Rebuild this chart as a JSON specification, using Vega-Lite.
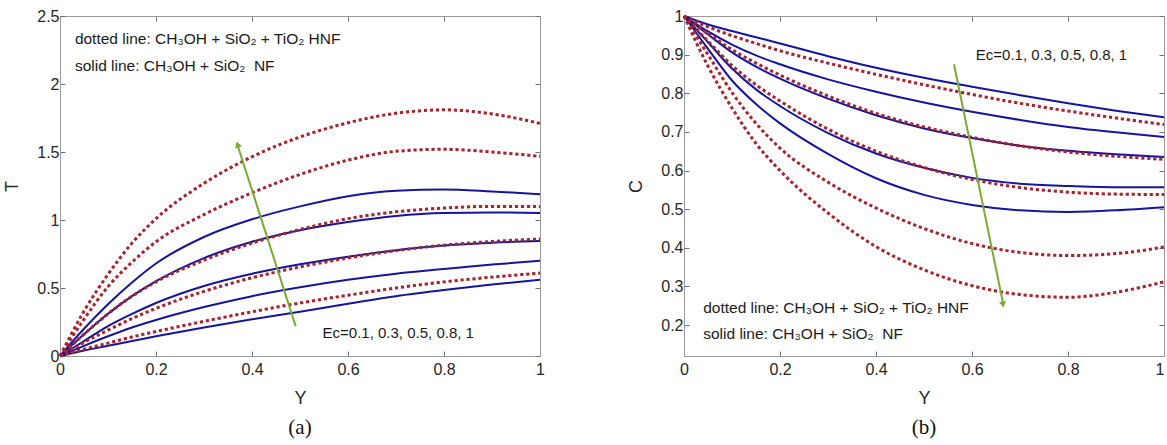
{
  "$schema": "https://vega.github.io/schema/vega-lite/v6.json",
  "background": "white",
  "padding": {"left": 3, "top": 8, "right": 0, "bottom": 0},
  "spacing": 81,
  "config": {
    "view": {"stroke": null},
    "font": "Liberation Sans",
    "axis": {
      "labelFont": "Liberation Sans", "labelFontSize": 16, "labelColor": "#262626",
      "titleFont": "Liberation Sans", "titleFontSize": 18, "titleFontWeight": "normal", "titleColor": "#262626",
      "domainColor": "#9a9a9a", "domainWidth": 1, "tickColor": "#707070", "tickSize": -5, "grid": false,
      "labelFlush": false, "labelOverlap": false
    }
  },
  "datasets": {
    "one": [{}],
    "tA": [
      {"Y":0,"T":0,"Ec":0.1,"fluid":"NF"},{"Y":0.05,"T":0.04,"Ec":0.1,"fluid":"NF"},{"Y":0.1,"T":0.075,"Ec":0.1,"fluid":"NF"},{"Y":0.15,"T":0.11,"Ec":0.1,"fluid":"NF"},{"Y":0.2,"T":0.145,"Ec":0.1,"fluid":"NF"},{"Y":0.3,"T":0.21,"Ec":0.1,"fluid":"NF"},{"Y":0.4,"T":0.27,"Ec":0.1,"fluid":"NF"},{"Y":0.5,"T":0.325,"Ec":0.1,"fluid":"NF"},{"Y":0.6,"T":0.385,"Ec":0.1,"fluid":"NF"},{"Y":0.7,"T":0.44,"Ec":0.1,"fluid":"NF"},{"Y":0.8,"T":0.485,"Ec":0.1,"fluid":"NF"},{"Y":0.9,"T":0.525,"Ec":0.1,"fluid":"NF"},{"Y":1,"T":0.56,"Ec":0.1,"fluid":"NF"},
      {"Y":0,"T":0,"Ec":0.3,"fluid":"NF"},{"Y":0.05,"T":0.075,"Ec":0.3,"fluid":"NF"},{"Y":0.1,"T":0.145,"Ec":0.3,"fluid":"NF"},{"Y":0.15,"T":0.21,"Ec":0.3,"fluid":"NF"},{"Y":0.2,"T":0.265,"Ec":0.3,"fluid":"NF"},{"Y":0.3,"T":0.36,"Ec":0.3,"fluid":"NF"},{"Y":0.4,"T":0.44,"Ec":0.3,"fluid":"NF"},{"Y":0.5,"T":0.505,"Ec":0.3,"fluid":"NF"},{"Y":0.6,"T":0.56,"Ec":0.3,"fluid":"NF"},{"Y":0.7,"T":0.605,"Ec":0.3,"fluid":"NF"},{"Y":0.8,"T":0.64,"Ec":0.3,"fluid":"NF"},{"Y":0.9,"T":0.672,"Ec":0.3,"fluid":"NF"},{"Y":1,"T":0.7,"Ec":0.3,"fluid":"NF"},
      {"Y":0,"T":0,"Ec":0.5,"fluid":"NF"},{"Y":0.05,"T":0.11,"Ec":0.5,"fluid":"NF"},{"Y":0.1,"T":0.22,"Ec":0.5,"fluid":"NF"},{"Y":0.15,"T":0.31,"Ec":0.5,"fluid":"NF"},{"Y":0.2,"T":0.39,"Ec":0.5,"fluid":"NF"},{"Y":0.3,"T":0.515,"Ec":0.5,"fluid":"NF"},{"Y":0.4,"T":0.605,"Ec":0.5,"fluid":"NF"},{"Y":0.5,"T":0.675,"Ec":0.5,"fluid":"NF"},{"Y":0.6,"T":0.73,"Ec":0.5,"fluid":"NF"},{"Y":0.7,"T":0.777,"Ec":0.5,"fluid":"NF"},{"Y":0.8,"T":0.812,"Ec":0.5,"fluid":"NF"},{"Y":0.9,"T":0.833,"Ec":0.5,"fluid":"NF"},{"Y":1,"T":0.845,"Ec":0.5,"fluid":"NF"},
      {"Y":0,"T":0,"Ec":0.8,"fluid":"NF"},{"Y":0.05,"T":0.16,"Ec":0.8,"fluid":"NF"},{"Y":0.1,"T":0.31,"Ec":0.8,"fluid":"NF"},{"Y":0.15,"T":0.44,"Ec":0.8,"fluid":"NF"},{"Y":0.2,"T":0.55,"Ec":0.8,"fluid":"NF"},{"Y":0.3,"T":0.72,"Ec":0.8,"fluid":"NF"},{"Y":0.4,"T":0.84,"Ec":0.8,"fluid":"NF"},{"Y":0.5,"T":0.925,"Ec":0.8,"fluid":"NF"},{"Y":0.6,"T":0.985,"Ec":0.8,"fluid":"NF"},{"Y":0.7,"T":1.03,"Ec":0.8,"fluid":"NF"},{"Y":0.8,"T":1.052,"Ec":0.8,"fluid":"NF"},{"Y":0.9,"T":1.056,"Ec":0.8,"fluid":"NF"},{"Y":1,"T":1.052,"Ec":0.8,"fluid":"NF"},
      {"Y":0,"T":0,"Ec":1,"fluid":"NF"},{"Y":0.05,"T":0.2,"Ec":1,"fluid":"NF"},{"Y":0.1,"T":0.38,"Ec":1,"fluid":"NF"},{"Y":0.15,"T":0.54,"Ec":1,"fluid":"NF"},{"Y":0.2,"T":0.68,"Ec":1,"fluid":"NF"},{"Y":0.3,"T":0.875,"Ec":1,"fluid":"NF"},{"Y":0.4,"T":1.005,"Ec":1,"fluid":"NF"},{"Y":0.5,"T":1.1,"Ec":1,"fluid":"NF"},{"Y":0.6,"T":1.175,"Ec":1,"fluid":"NF"},{"Y":0.7,"T":1.215,"Ec":1,"fluid":"NF"},{"Y":0.8,"T":1.225,"Ec":1,"fluid":"NF"},{"Y":0.9,"T":1.21,"Ec":1,"fluid":"NF"},{"Y":1,"T":1.19,"Ec":1,"fluid":"NF"},
      {"Y":0,"T":0,"Ec":0.1,"fluid":"HNF"},{"Y":0.05,"T":0.05,"Ec":0.1,"fluid":"HNF"},{"Y":0.1,"T":0.095,"Ec":0.1,"fluid":"HNF"},{"Y":0.15,"T":0.14,"Ec":0.1,"fluid":"HNF"},{"Y":0.2,"T":0.18,"Ec":0.1,"fluid":"HNF"},{"Y":0.3,"T":0.255,"Ec":0.1,"fluid":"HNF"},{"Y":0.4,"T":0.325,"Ec":0.1,"fluid":"HNF"},{"Y":0.5,"T":0.39,"Ec":0.1,"fluid":"HNF"},{"Y":0.6,"T":0.447,"Ec":0.1,"fluid":"HNF"},{"Y":0.7,"T":0.5,"Ec":0.1,"fluid":"HNF"},{"Y":0.8,"T":0.545,"Ec":0.1,"fluid":"HNF"},{"Y":0.9,"T":0.58,"Ec":0.1,"fluid":"HNF"},{"Y":1,"T":0.61,"Ec":0.1,"fluid":"HNF"},
      {"Y":0,"T":0,"Ec":0.3,"fluid":"HNF"},{"Y":0.05,"T":0.1,"Ec":0.3,"fluid":"HNF"},{"Y":0.1,"T":0.19,"Ec":0.3,"fluid":"HNF"},{"Y":0.15,"T":0.275,"Ec":0.3,"fluid":"HNF"},{"Y":0.2,"T":0.35,"Ec":0.3,"fluid":"HNF"},{"Y":0.3,"T":0.475,"Ec":0.3,"fluid":"HNF"},{"Y":0.4,"T":0.575,"Ec":0.3,"fluid":"HNF"},{"Y":0.5,"T":0.655,"Ec":0.3,"fluid":"HNF"},{"Y":0.6,"T":0.72,"Ec":0.3,"fluid":"HNF"},{"Y":0.7,"T":0.775,"Ec":0.3,"fluid":"HNF"},{"Y":0.8,"T":0.815,"Ec":0.3,"fluid":"HNF"},{"Y":0.9,"T":0.842,"Ec":0.3,"fluid":"HNF"},{"Y":1,"T":0.86,"Ec":0.3,"fluid":"HNF"},
      {"Y":0,"T":0,"Ec":0.5,"fluid":"HNF"},{"Y":0.05,"T":0.16,"Ec":0.5,"fluid":"HNF"},{"Y":0.1,"T":0.31,"Ec":0.5,"fluid":"HNF"},{"Y":0.15,"T":0.44,"Ec":0.5,"fluid":"HNF"},{"Y":0.2,"T":0.545,"Ec":0.5,"fluid":"HNF"},{"Y":0.3,"T":0.705,"Ec":0.5,"fluid":"HNF"},{"Y":0.4,"T":0.83,"Ec":0.5,"fluid":"HNF"},{"Y":0.5,"T":0.93,"Ec":0.5,"fluid":"HNF"},{"Y":0.6,"T":1.01,"Ec":0.5,"fluid":"HNF"},{"Y":0.7,"T":1.06,"Ec":0.5,"fluid":"HNF"},{"Y":0.8,"T":1.088,"Ec":0.5,"fluid":"HNF"},{"Y":0.9,"T":1.1,"Ec":0.5,"fluid":"HNF"},{"Y":1,"T":1.1,"Ec":0.5,"fluid":"HNF"},
      {"Y":0,"T":0,"Ec":0.8,"fluid":"HNF"},{"Y":0.05,"T":0.27,"Ec":0.8,"fluid":"HNF"},{"Y":0.1,"T":0.51,"Ec":0.8,"fluid":"HNF"},{"Y":0.15,"T":0.69,"Ec":0.8,"fluid":"HNF"},{"Y":0.2,"T":0.84,"Ec":0.8,"fluid":"HNF"},{"Y":0.3,"T":1.04,"Ec":0.8,"fluid":"HNF"},{"Y":0.4,"T":1.2,"Ec":0.8,"fluid":"HNF"},{"Y":0.5,"T":1.335,"Ec":0.8,"fluid":"HNF"},{"Y":0.6,"T":1.44,"Ec":0.8,"fluid":"HNF"},{"Y":0.7,"T":1.505,"Ec":0.8,"fluid":"HNF"},{"Y":0.8,"T":1.52,"Ec":0.8,"fluid":"HNF"},{"Y":0.9,"T":1.5,"Ec":0.8,"fluid":"HNF"},{"Y":1,"T":1.468,"Ec":0.8,"fluid":"HNF"},
      {"Y":0,"T":0,"Ec":1,"fluid":"HNF"},{"Y":0.05,"T":0.33,"Ec":1,"fluid":"HNF"},{"Y":0.1,"T":0.6,"Ec":1,"fluid":"HNF"},{"Y":0.15,"T":0.83,"Ec":1,"fluid":"HNF"},{"Y":0.2,"T":1.01,"Ec":1,"fluid":"HNF"},{"Y":0.3,"T":1.27,"Ec":1,"fluid":"HNF"},{"Y":0.4,"T":1.465,"Ec":1,"fluid":"HNF"},{"Y":0.5,"T":1.61,"Ec":1,"fluid":"HNF"},{"Y":0.6,"T":1.715,"Ec":1,"fluid":"HNF"},{"Y":0.7,"T":1.785,"Ec":1,"fluid":"HNF"},{"Y":0.8,"T":1.81,"Ec":1,"fluid":"HNF"},{"Y":0.9,"T":1.78,"Ec":1,"fluid":"HNF"},{"Y":1,"T":1.71,"Ec":1,"fluid":"HNF"}
    ],
    "cB": [
      {"Y":0,"C":1,"Ec":0.1,"fluid":"NF"},{"Y":0.05,"C":0.978,"Ec":0.1,"fluid":"NF"},{"Y":0.1,"C":0.961,"Ec":0.1,"fluid":"NF"},{"Y":0.15,"C":0.945,"Ec":0.1,"fluid":"NF"},{"Y":0.2,"C":0.929,"Ec":0.1,"fluid":"NF"},{"Y":0.3,"C":0.896,"Ec":0.1,"fluid":"NF"},{"Y":0.4,"C":0.866,"Ec":0.1,"fluid":"NF"},{"Y":0.5,"C":0.84,"Ec":0.1,"fluid":"NF"},{"Y":0.6,"C":0.817,"Ec":0.1,"fluid":"NF"},{"Y":0.7,"C":0.795,"Ec":0.1,"fluid":"NF"},{"Y":0.8,"C":0.774,"Ec":0.1,"fluid":"NF"},{"Y":0.9,"C":0.755,"Ec":0.1,"fluid":"NF"},{"Y":1,"C":0.738,"Ec":0.1,"fluid":"NF"},
      {"Y":0,"C":1,"Ec":0.3,"fluid":"NF"},{"Y":0.05,"C":0.96,"Ec":0.3,"fluid":"NF"},{"Y":0.1,"C":0.926,"Ec":0.3,"fluid":"NF"},{"Y":0.15,"C":0.898,"Ec":0.3,"fluid":"NF"},{"Y":0.2,"C":0.875,"Ec":0.3,"fluid":"NF"},{"Y":0.3,"C":0.836,"Ec":0.3,"fluid":"NF"},{"Y":0.4,"C":0.804,"Ec":0.3,"fluid":"NF"},{"Y":0.5,"C":0.776,"Ec":0.3,"fluid":"NF"},{"Y":0.6,"C":0.752,"Ec":0.3,"fluid":"NF"},{"Y":0.7,"C":0.731,"Ec":0.3,"fluid":"NF"},{"Y":0.8,"C":0.713,"Ec":0.3,"fluid":"NF"},{"Y":0.9,"C":0.699,"Ec":0.3,"fluid":"NF"},{"Y":1,"C":0.687,"Ec":0.3,"fluid":"NF"},
      {"Y":0,"C":1,"Ec":0.5,"fluid":"NF"},{"Y":0.05,"C":0.952,"Ec":0.5,"fluid":"NF"},{"Y":0.1,"C":0.906,"Ec":0.5,"fluid":"NF"},{"Y":0.15,"C":0.869,"Ec":0.5,"fluid":"NF"},{"Y":0.2,"C":0.838,"Ec":0.5,"fluid":"NF"},{"Y":0.3,"C":0.786,"Ec":0.5,"fluid":"NF"},{"Y":0.4,"C":0.743,"Ec":0.5,"fluid":"NF"},{"Y":0.5,"C":0.709,"Ec":0.5,"fluid":"NF"},{"Y":0.6,"C":0.684,"Ec":0.5,"fluid":"NF"},{"Y":0.7,"C":0.664,"Ec":0.5,"fluid":"NF"},{"Y":0.8,"C":0.651,"Ec":0.5,"fluid":"NF"},{"Y":0.9,"C":0.642,"Ec":0.5,"fluid":"NF"},{"Y":1,"C":0.635,"Ec":0.5,"fluid":"NF"},
      {"Y":0,"C":1,"Ec":0.8,"fluid":"NF"},{"Y":0.05,"C":0.932,"Ec":0.8,"fluid":"NF"},{"Y":0.1,"C":0.864,"Ec":0.8,"fluid":"NF"},{"Y":0.15,"C":0.81,"Ec":0.8,"fluid":"NF"},{"Y":0.2,"C":0.767,"Ec":0.8,"fluid":"NF"},{"Y":0.3,"C":0.697,"Ec":0.8,"fluid":"NF"},{"Y":0.4,"C":0.644,"Ec":0.8,"fluid":"NF"},{"Y":0.5,"C":0.607,"Ec":0.8,"fluid":"NF"},{"Y":0.6,"C":0.581,"Ec":0.8,"fluid":"NF"},{"Y":0.7,"C":0.566,"Ec":0.8,"fluid":"NF"},{"Y":0.8,"C":0.56,"Ec":0.8,"fluid":"NF"},{"Y":0.9,"C":0.557,"Ec":0.8,"fluid":"NF"},{"Y":1,"C":0.557,"Ec":0.8,"fluid":"NF"},
      {"Y":0,"C":1,"Ec":1,"fluid":"NF"},{"Y":0.05,"C":0.915,"Ec":1,"fluid":"NF"},{"Y":0.1,"C":0.833,"Ec":1,"fluid":"NF"},{"Y":0.15,"C":0.772,"Ec":1,"fluid":"NF"},{"Y":0.2,"C":0.722,"Ec":1,"fluid":"NF"},{"Y":0.3,"C":0.643,"Ec":1,"fluid":"NF"},{"Y":0.4,"C":0.58,"Ec":1,"fluid":"NF"},{"Y":0.5,"C":0.537,"Ec":1,"fluid":"NF"},{"Y":0.6,"C":0.511,"Ec":1,"fluid":"NF"},{"Y":0.7,"C":0.497,"Ec":1,"fluid":"NF"},{"Y":0.8,"C":0.493,"Ec":1,"fluid":"NF"},{"Y":0.9,"C":0.497,"Ec":1,"fluid":"NF"},{"Y":1,"C":0.505,"Ec":1,"fluid":"NF"},
      {"Y":0,"C":1,"Ec":0.1,"fluid":"HNF"},{"Y":0.05,"C":0.972,"Ec":0.1,"fluid":"HNF"},{"Y":0.1,"C":0.949,"Ec":0.1,"fluid":"HNF"},{"Y":0.15,"C":0.929,"Ec":0.1,"fluid":"HNF"},{"Y":0.2,"C":0.91,"Ec":0.1,"fluid":"HNF"},{"Y":0.3,"C":0.878,"Ec":0.1,"fluid":"HNF"},{"Y":0.4,"C":0.849,"Ec":0.1,"fluid":"HNF"},{"Y":0.5,"C":0.822,"Ec":0.1,"fluid":"HNF"},{"Y":0.6,"C":0.797,"Ec":0.1,"fluid":"HNF"},{"Y":0.7,"C":0.774,"Ec":0.1,"fluid":"HNF"},{"Y":0.8,"C":0.754,"Ec":0.1,"fluid":"HNF"},{"Y":0.9,"C":0.736,"Ec":0.1,"fluid":"HNF"},{"Y":1,"C":0.719,"Ec":0.1,"fluid":"HNF"},
      {"Y":0,"C":1,"Ec":0.3,"fluid":"HNF"},{"Y":0.05,"C":0.955,"Ec":0.3,"fluid":"HNF"},{"Y":0.1,"C":0.913,"Ec":0.3,"fluid":"HNF"},{"Y":0.15,"C":0.878,"Ec":0.3,"fluid":"HNF"},{"Y":0.2,"C":0.847,"Ec":0.3,"fluid":"HNF"},{"Y":0.3,"C":0.793,"Ec":0.3,"fluid":"HNF"},{"Y":0.4,"C":0.748,"Ec":0.3,"fluid":"HNF"},{"Y":0.5,"C":0.713,"Ec":0.3,"fluid":"HNF"},{"Y":0.6,"C":0.686,"Ec":0.3,"fluid":"HNF"},{"Y":0.7,"C":0.664,"Ec":0.3,"fluid":"HNF"},{"Y":0.8,"C":0.648,"Ec":0.3,"fluid":"HNF"},{"Y":0.9,"C":0.637,"Ec":0.3,"fluid":"HNF"},{"Y":1,"C":0.629,"Ec":0.3,"fluid":"HNF"},
      {"Y":0,"C":1,"Ec":0.5,"fluid":"HNF"},{"Y":0.05,"C":0.935,"Ec":0.5,"fluid":"HNF"},{"Y":0.1,"C":0.872,"Ec":0.5,"fluid":"HNF"},{"Y":0.15,"C":0.822,"Ec":0.5,"fluid":"HNF"},{"Y":0.2,"C":0.78,"Ec":0.5,"fluid":"HNF"},{"Y":0.3,"C":0.707,"Ec":0.5,"fluid":"HNF"},{"Y":0.4,"C":0.65,"Ec":0.5,"fluid":"HNF"},{"Y":0.5,"C":0.608,"Ec":0.5,"fluid":"HNF"},{"Y":0.6,"C":0.577,"Ec":0.5,"fluid":"HNF"},{"Y":0.7,"C":0.556,"Ec":0.5,"fluid":"HNF"},{"Y":0.8,"C":0.544,"Ec":0.5,"fluid":"HNF"},{"Y":0.9,"C":0.539,"Ec":0.5,"fluid":"HNF"},{"Y":1,"C":0.538,"Ec":0.5,"fluid":"HNF"},
      {"Y":0,"C":1,"Ec":0.8,"fluid":"HNF"},{"Y":0.05,"C":0.9,"Ec":0.8,"fluid":"HNF"},{"Y":0.1,"C":0.802,"Ec":0.8,"fluid":"HNF"},{"Y":0.15,"C":0.722,"Ec":0.8,"fluid":"HNF"},{"Y":0.2,"C":0.658,"Ec":0.8,"fluid":"HNF"},{"Y":0.3,"C":0.57,"Ec":0.8,"fluid":"HNF"},{"Y":0.4,"C":0.503,"Ec":0.8,"fluid":"HNF"},{"Y":0.5,"C":0.45,"Ec":0.8,"fluid":"HNF"},{"Y":0.6,"C":0.411,"Ec":0.8,"fluid":"HNF"},{"Y":0.7,"C":0.388,"Ec":0.8,"fluid":"HNF"},{"Y":0.8,"C":0.38,"Ec":0.8,"fluid":"HNF"},{"Y":0.9,"C":0.385,"Ec":0.8,"fluid":"HNF"},{"Y":1,"C":0.402,"Ec":0.8,"fluid":"HNF"},
      {"Y":0,"C":1,"Ec":1,"fluid":"HNF"},{"Y":0.05,"C":0.87,"Ec":1,"fluid":"HNF"},{"Y":0.1,"C":0.762,"Ec":1,"fluid":"HNF"},{"Y":0.15,"C":0.67,"Ec":1,"fluid":"HNF"},{"Y":0.2,"C":0.6,"Ec":1,"fluid":"HNF"},{"Y":0.3,"C":0.49,"Ec":1,"fluid":"HNF"},{"Y":0.4,"C":0.403,"Ec":1,"fluid":"HNF"},{"Y":0.5,"C":0.343,"Ec":1,"fluid":"HNF"},{"Y":0.6,"C":0.302,"Ec":1,"fluid":"HNF"},{"Y":0.7,"C":0.279,"Ec":1,"fluid":"HNF"},{"Y":0.8,"C":0.272,"Ec":1,"fluid":"HNF"},{"Y":0.9,"C":0.285,"Ec":1,"fluid":"HNF"},{"Y":1,"C":0.312,"Ec":1,"fluid":"HNF"}
    ],
    "arrowA": [{"Y":0.491,"T":0.22},{"Y":0.369,"T":1.56}],
    "headA": [{"Y":0.370,"T":1.556}],
    "arrowB": [{"Y":0.5625,"C":0.875},{"Y":0.665,"C":0.255}],
    "headB": [{"Y":0.6646,"C":0.253}]
  },
  "hconcat": [
    {
      "width": 480, "height": 340,
      "title": {"text": "(a)", "orient": "bottom", "font": "Liberation Serif", "fontSize": 21, "fontWeight": "normal", "color": "#111111", "offset": 10},
      "layer": [
        {
          "data": {"name": "tA"},
          "transform": [{"filter": "datum.fluid == 'NF'"}],
          "mark": {"type": "line", "color": "#14149c", "strokeWidth": 2, "interpolate": "monotone"},
          "encoding": {
            "x": {"field": "Y", "type": "quantitative", "scale": {"domain": [0, 1], "nice": false},
                  "axis": {"values": [0, 0.2, 0.4, 0.6, 0.8, 1], "format": "~g", "title": "Y", "labelPadding": 10, "titlePadding": 12}},
            "y": {"field": "T", "type": "quantitative", "scale": {"domain": [0, 2.5], "nice": false},
                  "axis": {"values": [0, 0.5, 1, 1.5, 2, 2.5], "format": "~g", "title": "T", "labelPadding": 6, "titlePadding": 15}},
            "detail": {"field": "Ec", "type": "nominal"}
          }
        },
        {
          "data": {"name": "tA"},
          "transform": [{"filter": "datum.fluid == 'HNF'"}],
          "mark": {"type": "line", "color": "#a8232b", "strokeWidth": 3, "strokeDash": [3.2, 2.8], "strokeCap": "butt", "interpolate": "monotone"},
          "encoding": {
            "x": {"field": "Y", "type": "quantitative", "axis": null},
            "y": {"field": "T", "type": "quantitative", "axis": null},
            "detail": {"field": "Ec", "type": "nominal"}
          }
        },
        {
          "data": {"name": "arrowA"},
          "mark": {"type": "line", "color": "#77ac30", "strokeWidth": 2},
          "encoding": {
            "x": {"field": "Y", "type": "quantitative", "axis": null},
            "y": {"field": "T", "type": "quantitative", "axis": null}
          }
        },
        {
          "data": {"name": "headA"},
          "mark": {"type": "point", "shape": "triangle-up", "filled": true, "color": "#77ac30", "opacity": 1, "size": 50, "angle": 342},
          "encoding": {
            "x": {"field": "Y", "type": "quantitative", "axis": null},
            "y": {"field": "T", "type": "quantitative", "axis": null}
          }
        },
        {
          "data": {"name": "one"},
          "mark": {"type": "text", "text": "dotted line: CH₃OH + SiO₂ + TiO₂ HNF", "align": "left", "baseline": "middle", "fontSize": 15.5, "color": "#1a1a1a", "font": "Liberation Sans"},
          "encoding": {"x": {"datum": 0.031, "type": "quantitative", "axis": null}, "y": {"datum": 2.33, "type": "quantitative", "axis": null}}
        },
        {
          "data": {"name": "one"},
          "mark": {"type": "text", "text": "solid line: CH₃OH + SiO₂\u00a0\u00a0NF", "align": "left", "baseline": "middle", "fontSize": 15.5, "color": "#1a1a1a", "font": "Liberation Sans"},
          "encoding": {"x": {"datum": 0.031, "type": "quantitative", "axis": null}, "y": {"datum": 2.13, "type": "quantitative", "axis": null}}
        },
        {
          "data": {"name": "one"},
          "mark": {"type": "text", "text": "Ec=0.1, 0.3, 0.5, 0.8, 1", "align": "left", "baseline": "middle", "fontSize": 15, "color": "#1a1a1a", "font": "Liberation Sans"},
          "encoding": {"x": {"datum": 0.547, "type": "quantitative", "axis": null}, "y": {"datum": 0.172, "type": "quantitative", "axis": null}}
        },
        {
          "data": {"name": "headA"},
          "mark": {"type": "point", "opacity": 0},
          "encoding": {
            "x": {"field": "Y", "type": "quantitative", "axis": {"orient": "top", "values": [0, 0.2, 0.4, 0.6, 0.8, 1], "labels": false, "title": null}},
            "y": {"field": "T", "type": "quantitative", "axis": {"orient": "right", "values": [0, 0.5, 1, 1.5, 2, 2.5], "labels": false, "title": null}}
          }
        }
      ],
      "resolve": {"axis": {"x": "independent", "y": "independent"}}
    },
    {
      "width": 480, "height": 340,
      "title": {"text": "(b)", "orient": "bottom", "font": "Liberation Serif", "fontSize": 21, "fontWeight": "normal", "color": "#111111", "offset": 10},
      "layer": [
        {
          "data": {"name": "cB"},
          "transform": [{"filter": "datum.fluid == 'NF'"}],
          "mark": {"type": "line", "color": "#14149c", "strokeWidth": 2, "interpolate": "monotone"},
          "encoding": {
            "x": {"field": "Y", "type": "quantitative", "scale": {"domain": [0, 1], "nice": false},
                  "axis": {"values": [0, 0.2, 0.4, 0.6, 0.8, 1], "format": "~g", "title": "Y", "labelPadding": 10, "titlePadding": 12,
                           "labelAlign": {"condition": {"test": "datum.value == 1", "value": "right"}, "value": "center"}}},
            "y": {"field": "C", "type": "quantitative", "scale": {"domain": [0.12, 1], "nice": false, "zero": false},
                  "axis": {"values": [0.2, 0.3, 0.4, 0.5, 0.6, 0.7, 0.8, 0.9, 1], "format": "~g", "title": "C", "labelPadding": 6, "titlePadding": 15}},
            "detail": {"field": "Ec", "type": "nominal"}
          }
        },
        {
          "data": {"name": "cB"},
          "transform": [{"filter": "datum.fluid == 'HNF'"}],
          "mark": {"type": "line", "color": "#a8232b", "strokeWidth": 3, "strokeDash": [3.2, 2.8], "strokeCap": "butt", "interpolate": "monotone"},
          "encoding": {
            "x": {"field": "Y", "type": "quantitative", "axis": null},
            "y": {"field": "C", "type": "quantitative", "axis": null},
            "detail": {"field": "Ec", "type": "nominal"}
          }
        },
        {
          "data": {"name": "arrowB"},
          "mark": {"type": "line", "color": "#77ac30", "strokeWidth": 2},
          "encoding": {
            "x": {"field": "Y", "type": "quantitative", "axis": null},
            "y": {"field": "C", "type": "quantitative", "axis": null}
          }
        },
        {
          "data": {"name": "headB"},
          "mark": {"type": "point", "shape": "triangle-down", "filled": true, "color": "#77ac30", "opacity": 1, "size": 50, "angle": 348.5},
          "encoding": {
            "x": {"field": "Y", "type": "quantitative", "axis": null},
            "y": {"field": "C", "type": "quantitative", "axis": null}
          }
        },
        {
          "data": {"name": "one"},
          "mark": {"type": "text", "text": "dotted line: CH₃OH + SiO₂ + TiO₂ HNF", "align": "left", "baseline": "middle", "fontSize": 15.5, "color": "#1a1a1a", "font": "Liberation Sans"},
          "encoding": {"x": {"datum": 0.04, "type": "quantitative", "axis": null}, "y": {"datum": 0.245, "type": "quantitative", "axis": null}}
        },
        {
          "data": {"name": "one"},
          "mark": {"type": "text", "text": "solid line: CH₃OH + SiO₂\u00a0\u00a0NF", "align": "left", "baseline": "middle", "fontSize": 15.5, "color": "#1a1a1a", "font": "Liberation Sans"},
          "encoding": {"x": {"datum": 0.04, "type": "quantitative", "axis": null}, "y": {"datum": 0.178, "type": "quantitative", "axis": null}}
        },
        {
          "data": {"name": "one"},
          "mark": {"type": "text", "text": "Ec=0.1, 0.3, 0.5, 0.8, 1", "align": "left", "baseline": "middle", "fontSize": 15, "color": "#1a1a1a", "font": "Liberation Sans"},
          "encoding": {"x": {"datum": 0.608, "type": "quantitative", "axis": null}, "y": {"datum": 0.899, "type": "quantitative", "axis": null}}
        },
        {
          "data": {"name": "headB"},
          "mark": {"type": "point", "opacity": 0},
          "encoding": {
            "x": {"field": "Y", "type": "quantitative", "axis": {"orient": "top", "values": [0, 0.2, 0.4, 0.6, 0.8, 1], "labels": false, "title": null}},
            "y": {"field": "C", "type": "quantitative", "axis": {"orient": "right", "values": [0.2, 0.3, 0.4, 0.5, 0.6, 0.7, 0.8, 0.9, 1], "labels": false, "title": null}}
          }
        }
      ],
      "resolve": {"axis": {"x": "independent", "y": "independent"}}
    }
  ]
}
